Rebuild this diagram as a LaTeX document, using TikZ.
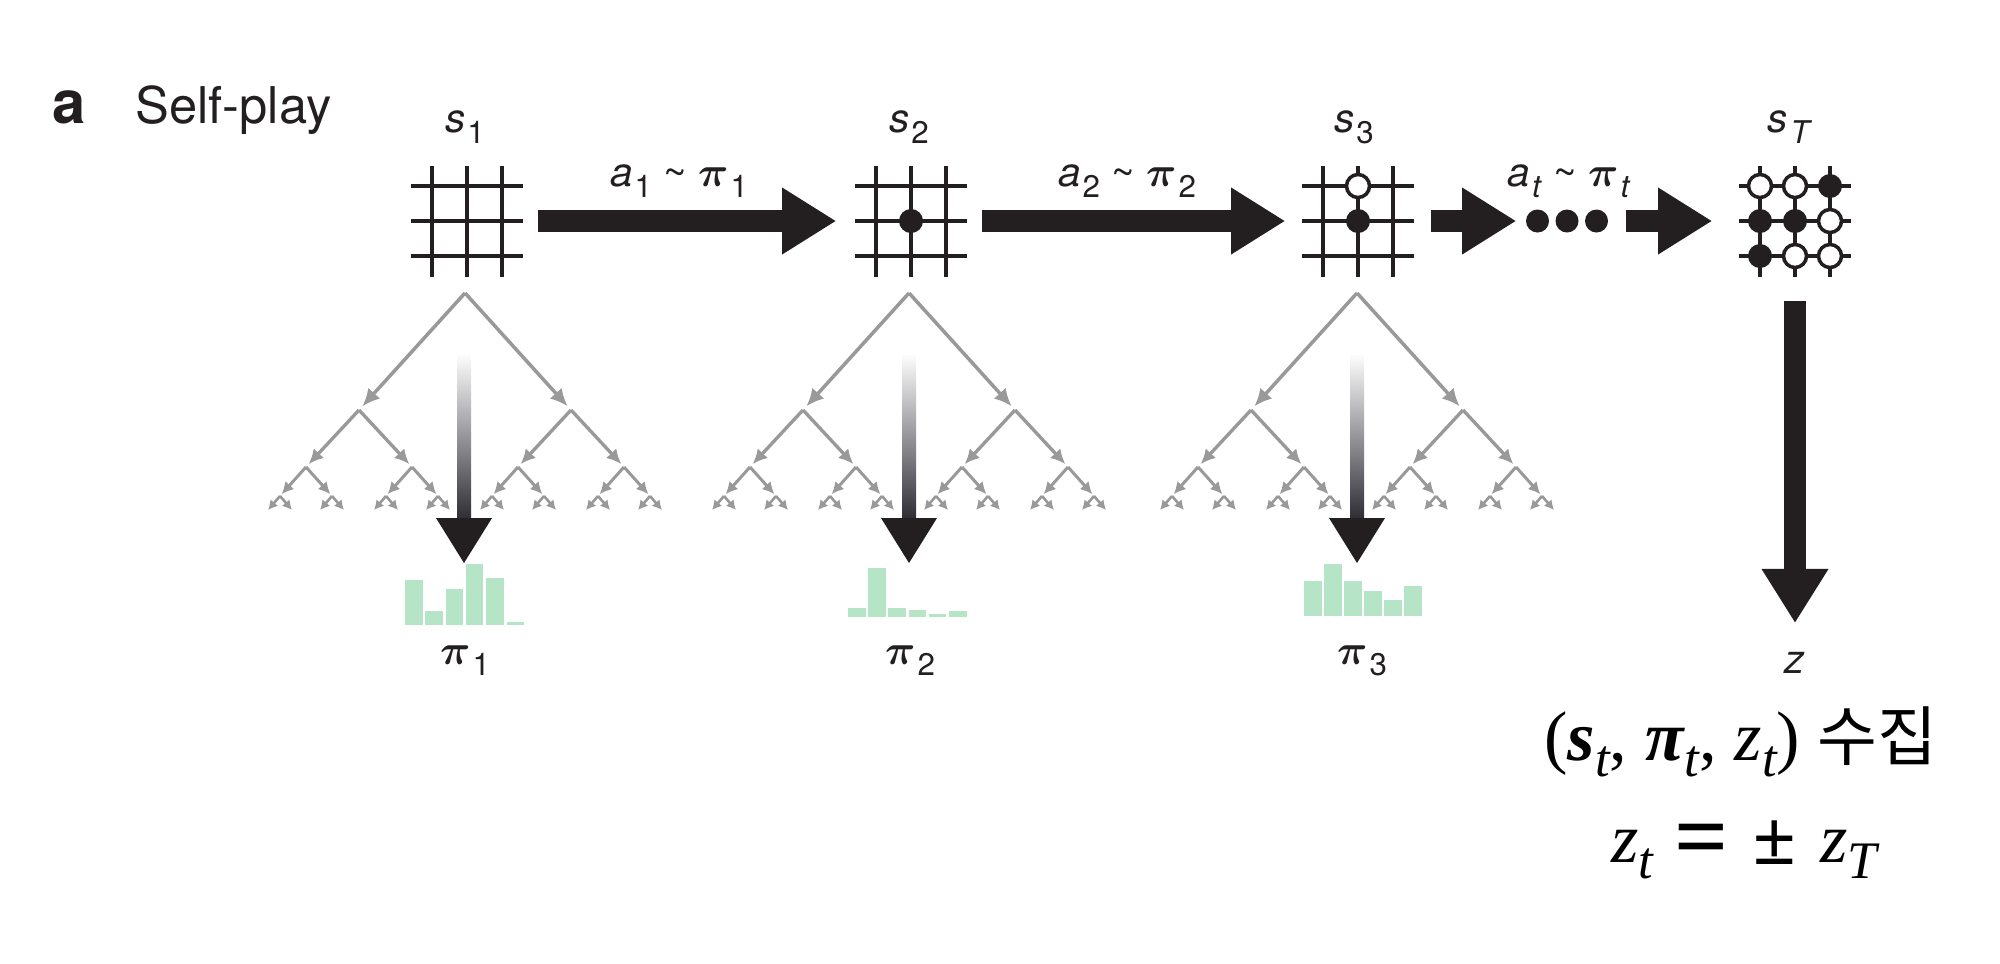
\documentclass[tikz,border=0pt]{standalone}
\usepackage{fontspec}
\setmainfont{TeX Gyre Heros}
\newfontfamily\tnr{Liberation Serif}
\newfontfamily\krfont{Noto Sans CJK KR}
\usetikzlibrary{arrows.meta,calc}
\definecolor{ink}{HTML}{231F20}
\definecolor{treegray}{HTML}{999999}
\definecolor{bargreen}{RGB}{182,228,198}
\definecolor{gmid}{HTML}{7A7275}
\definecolor{gbot}{HTML}{2E2D35}
\newcommand\sbt[1]{\kern0.6pt\raisebox{-3.3pt}{\fontsize{8.9}{9}\selectfont #1}}
\newcommand\bpi{{\boldmath$\pi$}}
\newcommand\sbs[1]{\raisebox{-4.8pt}{\fontsize{15}{15}\selectfont\itshape #1}}
\newcommand\drawgrid[1]{%
  \foreach \k in {-1,0,1}{%
    \draw[gridh] ($(#1)+(-56,{\k*35})$) -- ($(#1)+(56,{\k*35})$);
    \draw[gridv] ($(#1)+({\k*35},-55)$) -- ($(#1)+({\k*35},56)$);
  }}
\newcommand\bstone[3]{\fill[ink] ($(#1)+({#2*35},{#3*35})$) circle (0.12cm);}
\newcommand\wstone[3]{\draw[ink, line width=1pt, fill=white] ($(#1)+({#2*35},{#3*35})$) circle (0.115cm);}
\newcommand\mctree[3]{%
  \coordinate (#1) at (#2,#3);
  \foreach \a/\sa in {l/-1,r/1}{%
    \coordinate (#1\a) at ({#2+\sa*106},{#3+117});
    \draw[tra] (#1) -- (#1\a);
    \foreach \b/\sb in {l/-1,r/1}{%
      \coordinate (#1\a\b) at ($(#1\a)+({\sb*53},57)$);
      \draw[trb] (#1\a) -- (#1\a\b);
      \foreach \c/\sc in {l/-1,r/1}{%
        \coordinate (#1\a\b\c) at ($(#1\a\b)+({\sc*26},29)$);
        \draw[trc] (#1\a\b) -- (#1\a\b\c);
        \foreach \d/\sd in {l/-1,r/1}{%
          \coordinate (#1\a\b\c\d) at ($(#1\a\b\c)+({\sd*12},14)$);
          \draw[trd] (#1\a\b\c) -- (#1\a\b\c\d);
        }}}}}
\newcommand\bars[4]{%
  \foreach \t [count=\i from 0] in {#4}
    \fill[bargreen] ({#1+\i*#3},#2) rectangle ({#1+\i*#3+17.5},\t);}
\newcommand\gradarrow[2]{%
  \shade[top color=white, middle color=gmid, bottom color=gbot]
    ($(#1)+(-7,0)$) rectangle ($(#2)+(7,-44)$);
  \fill[ink] ($(#2)+(-28,-45)$) -- ($(#2)+(28,-45)$) -- (#2) -- cycle;}
\begin{document}
\begin{tikzpicture}[x=0.01cm, y=-0.01cm,
  board/.style={minimum width=1.12cm, minimum height=1.12cm, inner sep=0pt},
  gridh/.style={ink, line width=1.35pt},
  gridv/.style={ink, line width=1pt},
  blockarrow/.style={ink, line width=6pt, -{Triangle[length=15.4pt, width=17.9pt]}},
  tra/.style={treegray, line width=1pt, -{Latex[length=5pt, width=4.6pt]}, shorten >=1.4pt},
  trb/.style={treegray, line width=0.95pt, -{Latex[length=4.2pt, width=4pt]}, shorten >=1.1pt},
  trc/.style={treegray, line width=0.85pt, -{Latex[length=3.4pt, width=3.4pt]}, shorten >=0.7pt},
  trd/.style={treegray, line width=0.75pt, -{Latex[length=2.7pt, width=2.9pt]}},
  lab/.style={anchor=base, inner sep=0pt, font=\fontsize{11.5}{13}\selectfont, text=ink},
  pilab/.style={anchor=base, inner sep=0pt, font=\fontsize{12.5}{14}\selectfont, text=ink},
  chart/.style={minimum width=1.2cm, minimum height=0.6cm, inner sep=0pt}]
\useasboundingbox (0,0) rectangle (2000,963);

% title
\node[anchor=base west, inner sep=0pt, font=\fontsize{17}{17}\selectfont\bfseries, text=ink] (tagA) at (52,123) {a};
\node[anchor=base west, inner sep=0pt, font=\fontsize{14.4}{16}\selectfont, text=ink] (title) at (135,123) {Self-play};

% boards
\node[board] (b1) at (467,221) {};
\node[board] (b2) at (911,221) {};
\node[board] (b3) at (1358,221) {};
\node[board] (bT) at (1795,221) {};
\node[minimum width=0.86cm, minimum height=0.25cm, inner sep=0pt] (dots) at (1567,221) {};

\drawgrid{b1}
\drawgrid{b2}
\drawgrid{b3}
\drawgrid{bT}
\bstone{b2}{0}{0}
\wstone{b3}{0}{-1}
\bstone{b3}{0}{0}
\wstone{bT}{-1}{-1}\wstone{bT}{0}{-1}\bstone{bT}{1}{-1}
\bstone{bT}{-1}{0}\bstone{bT}{0}{0}\wstone{bT}{1}{0}
\bstone{bT}{-1}{1}\wstone{bT}{0}{1}\wstone{bT}{1}{1}
\foreach \dx in {-29.5,0,29.5} \fill[ink] ($(dots)+(\dx,0)$) circle (0.115cm);

% state labels
\node[lab] (ls1) at (465,132) {\textit{s}\sbt{1}};
\node[lab] (ls2) at (909,132) {\textit{s}\sbt{2}};
\node[lab] (ls3) at (1354,132) {\textit{s}\sbt{3}};
\node[lab] (lsT) at (1790,132) {\textit{s}\sbt{\textit{T}}};

% action arrows
\draw[blockarrow, shorten <=1.4mm, shorten >=1.8mm] (b1) -- (b2);
\draw[blockarrow, shorten <=1.4mm, shorten >=1.6mm] (b2) -- (b3);
\draw[blockarrow, shorten <=1.6mm, shorten >=0.7mm] (b3) -- (dots);
\draw[blockarrow, shorten <=1.5mm, shorten >=2.6mm] (dots) -- (bT);
\node[lab] (la1) at (679,186) {\textit{a}\sbt{1} \textasciitilde{} \bpi\sbt{1}};
\node[lab] (la2) at (1127,186) {\textit{a}\sbt{2} \textasciitilde{} \bpi\sbt{2}};
\node[lab] (lat) at (1569,186) {\textit{a}\sbt{\textit{t}} \textasciitilde{} \bpi\sbt{\textit{t}}};

% search trees
\mctree{t1}{465}{293}
\mctree{t2}{909}{293}
\mctree{t3}{1357}{293}

% policy charts
\node[chart] (ch1) at (465,600) {};
\node[chart] (ch2) at (907,600) {};
\node[chart] (ch3) at (1363,600) {};
\bars{405}{625}{20.3}{580,611,589,564,578,622}
\bars{848}{617}{20.2}{608,568,608,610,614,611}
\bars{1304}{616}{20}{581,564,581,591,600,586}

% gradient arrows (search -> policy)
\coordinate (g1) at (464,353); \coordinate (h1) at (464,563);
\coordinate (g2) at (909,353); \coordinate (h2) at (909,563);
\coordinate (g3) at (1357,353); \coordinate (h3) at (1357,563);
\gradarrow{g1}{h1}
\gradarrow{g2}{h2}
\gradarrow{g3}{h3}

% policy labels
\node[pilab] (lp1) at (465,664) {\bpi\sbt{1}};
\node[pilab] (lp2) at (910,664) {\bpi\sbt{2}};
\node[pilab] (lp3) at (1362,664) {\bpi\sbt{3}};

% outcome
\node[lab] (zl) at (1795,673) {\textit{z}};
\draw[blockarrow, shorten <=2.3mm, shorten >=2.8mm] (bT.south) -- (bT.south |- zl.north);

% collected data
\node[anchor=base, inner sep=0pt] (coll) at (1741,760)
  {\tnr\fontsize{20}{24}\selectfont (\textbf{\textit{s}}\sbs{t}, \textbf{\textit{π}}\sbs{t}, \textit{z}\sbs{t})\ {\krfont\fontsize{18.5}{20}\selectfont 수집}};
\node[anchor=base, inner sep=0pt] (zeq) at (1744,862)
  {\tnr\fontsize{20}{24}\selectfont \textit{z}\sbs{t}\hspace{6pt}\raisebox{-1.8pt}{\fontsize{27}{27}\selectfont\bfseries =}\hspace{7pt}\raisebox{-0.8pt}{\fontsize{22}{22}\selectfont\bfseries ±}\hspace{7pt}\textit{z}\sbs{T}};
\end{tikzpicture}
\end{document}
